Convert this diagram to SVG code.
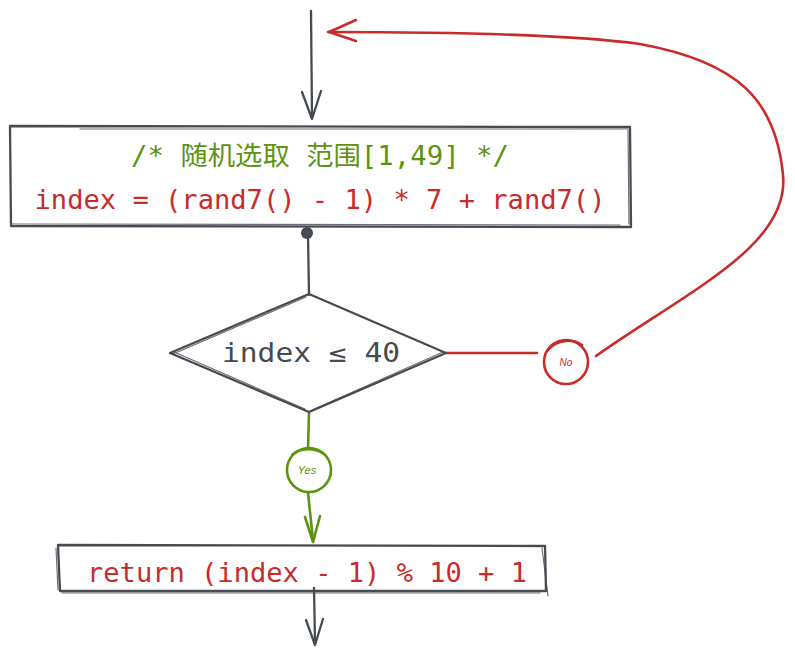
<svg xmlns="http://www.w3.org/2000/svg" width="795" height="655" viewBox="0 0 795 655">
<style>
.g{fill:none;stroke:#464b52;stroke-width:2.3;stroke-linecap:round;stroke-linejoin:round}
.gt{fill:none;stroke:#464b52;stroke-width:1.2;stroke-linecap:round;opacity:.8}
.r{fill:none;stroke:#c92a2a;stroke-width:2.6;stroke-linecap:round;stroke-linejoin:round}
.gr{fill:none;stroke:#5c9410;stroke-width:2.6;stroke-linecap:round;stroke-linejoin:round}
text{font-family:"DejaVu Sans Mono","Liberation Mono","Noto Sans CJK SC",monospace;font-size:26px}
.tr{fill:#c92a2a}.tg{fill:#5c9410}.tk{fill:#464b52}
</style>
<rect width="795" height="655" fill="#fff"/>
<g id="connectors">
  <path class="g" d="M311,11 L312,118"/>
  <path class="g" d="M302,92 L312,119 L321,91"/>
  <path class="g" d="M308,234 L309,295"/>
  <circle cx="307" cy="233" r="6" fill="#464b52"/>
  <path class="r" d="M446,353 L537,353"/>
  <path class="r" d="M596,356 C690,290 790,245 783,175 C776,100 738,62 640,44 C560,33 420,32 328,32"/>
  <path class="r" d="M356,20 L329,32 L356,41" stroke-width="2"/>
  <path class="gr" d="M309,413 L308,448"/>
  <path class="gr" d="M308,493 L313,540"/>
  <path class="gr" d="M305,517 L313,542 L320,516"/>
  <path class="g" d="M314,588 L315,644"/>
  <path class="g" d="M306,620 L315,645 L323,619"/>
</g>
<g id="label-no">
  <circle class="r" cx="566" cy="362" r="22" stroke-width="2.2"/>
  <path class="r" d="M548,350 C556,340 572,338 582,345" stroke-width="1.4"/>
  <text x="566" y="366" text-anchor="middle" class="tr" style="font-size:10px;font-family:'Liberation Sans',sans-serif;font-style:italic">No</text>
</g>
<g id="label-yes">
  <circle class="gr" cx="309" cy="470" r="22" stroke-width="2.2"/>
  <path class="gr" d="M292,455 C300,448 314,447 324,454" stroke-width="1.4"/>
  <text x="307" y="474" text-anchor="middle" class="tg" style="font-size:11px;font-family:'Liberation Sans',sans-serif;font-style:italic">Yes</text>
</g>
<g id="node-random">
  <path class="g" d="M10,126 L630,127 L631,227 L11,226 Z"/>
  <path class="gt" d="M80,129 L628,129 M12,224 L620,225 M628,130 L629,224"/>
  <text x="320" y="165" text-anchor="middle" class="tg" textLength="378" lengthAdjust="spacingAndGlyphs">/* 随机选取 范围[1,49] */</text>
  <text x="320" y="209" text-anchor="middle" class="tr" textLength="571" lengthAdjust="spacingAndGlyphs">index = (rand7() - 1) * 7 + rand7()</text>
</g>
<g id="node-cond">
  <path class="g" d="M309,294 L446,353 L309,412 L170,353 Z"/>
  <path class="gt" d="M306,297 L173,354 M174,352 L305,409 M312,410 L443,352"/>
  <text x="311" y="362" text-anchor="middle" class="tk" textLength="178" lengthAdjust="spacingAndGlyphs">index ≤ 40</text>
</g>
<g id="node-return">
  <path class="g" d="M58,545 L545,546 L546,591 L60,591 Z"/>
  <path class="gt" d="M56,548 L58,590 M542,548 L548,596 M62,593 L540,593"/>
  <text x="307" y="582" text-anchor="middle" class="tr" textLength="440" lengthAdjust="spacingAndGlyphs">return (index - 1) % 10 + 1</text>
</g>
</svg>
